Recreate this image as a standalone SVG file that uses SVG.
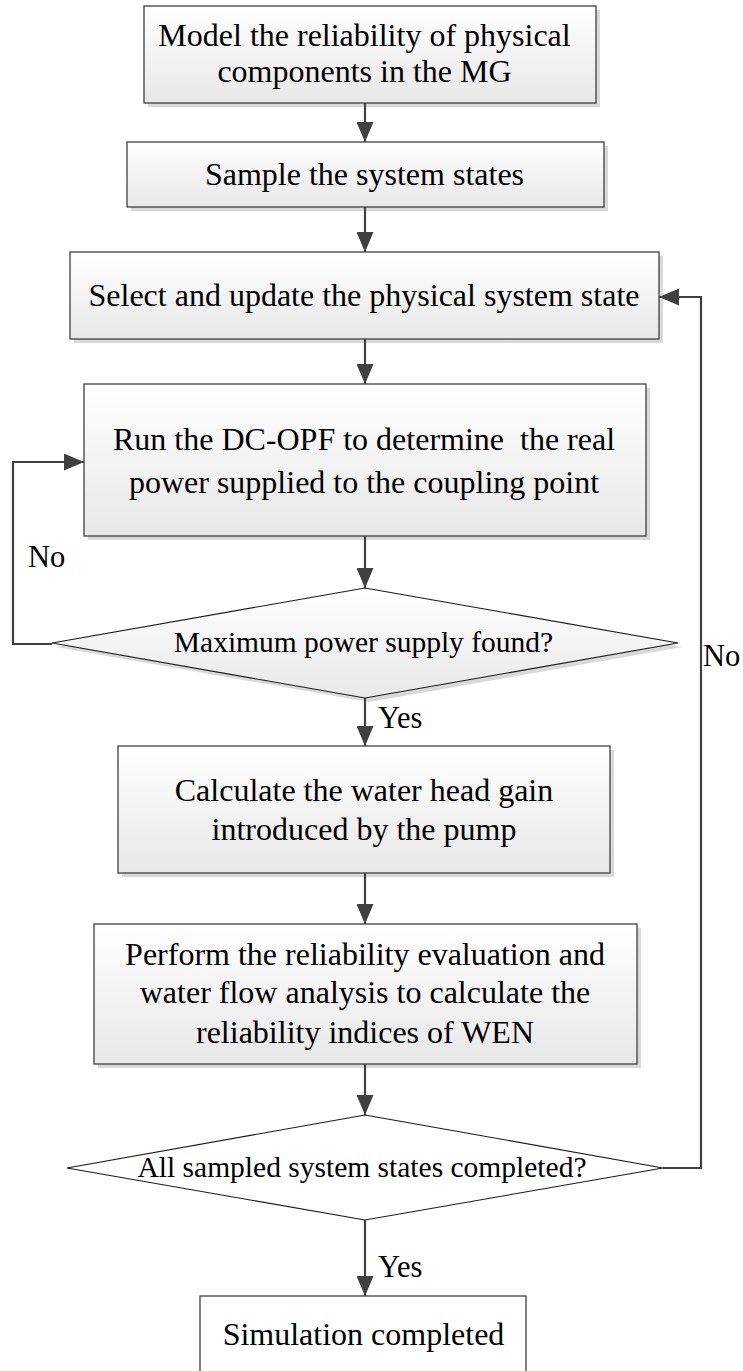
<svg xmlns="http://www.w3.org/2000/svg" width="743" height="1371" viewBox="0 0 743 1371">
<style>
.box{fill:url(#g);stroke:#404040;stroke-width:1.3}
.shadow{fill:#d9d9d9}
.dia{stroke:#1a1a1a;stroke-width:1.1}
.t{font-family:"Liberation Serif","Times New Roman",serif;font-size:32px;fill:#000;text-anchor:middle;white-space:pre}
.td{font-family:"Liberation Serif","Times New Roman",serif;font-size:29.5px;fill:#000;text-anchor:middle}
.lb{font-family:"Liberation Serif","Times New Roman",serif;font-size:30.5px;fill:#000}
.c{fill:none;stroke:#404040;stroke-width:2.2;marker-end:url(#ah)}
.cn{fill:none;stroke:#404040;stroke-width:2.2}
</style>
<defs>
<linearGradient id="g" x1="0" y1="0" x2="0" y2="1">
<stop offset="0" stop-color="#ffffff"/>
<stop offset="1" stop-color="#e8e8e8"/>
</linearGradient>
<marker id="ah" viewBox="0 0 20 17" markerWidth="20" markerHeight="17" refX="20" refY="8.5" markerUnits="userSpaceOnUse" orient="auto">
<path d="M0,0 L20,8.5 L0,17 z" fill="#404040"/>
</marker>
</defs>
<rect width="743" height="1371" fill="#fff"/>

<g id="n1">
<rect class="shadow" x="148" y="10" width="452" height="97"/>
<rect class="box" x="144" y="6" width="452" height="97"/>
<text class="t" x="364.5" y="46">Model the reliability of physical</text>
<text class="t" x="364.5" y="81.5">components in the MG</text>
</g>
<g id="n2">
<rect class="shadow" x="131" y="146" width="477" height="65"/>
<rect class="box" x="127" y="142" width="477" height="65"/>
<text class="t" x="364.5" y="185">Sample the system states</text>
</g>
<g id="n3">
<rect class="shadow" x="74" y="256" width="589" height="87"/>
<rect class="box" x="70" y="252" width="589" height="87"/>
<text class="t" x="364" y="306">Select and update the physical system state</text>
</g>
<g id="n4">
<rect class="shadow" x="88" y="388" width="562" height="152"/>
<rect class="box" x="84" y="384" width="562" height="152"/>
<text class="t" x="364" y="450">Run the DC-OPF to determine  the real</text>
<text class="t" x="364" y="493">power supplied to the coupling point</text>
</g>
<g id="d1">
<polygon class="shadow" points="369,592 682,647 369,702 56,647"/>
<polygon class="dia" fill="url(#g)" points="365,588 678,643 365,698 52,643"/>
<text class="td" x="363.5" y="652">Maximum power supply found?</text>
</g>
<g id="n5">
<rect class="shadow" x="122" y="750" width="492" height="127"/>
<rect class="box" x="118" y="746" width="492" height="127"/>
<text class="t" x="364" y="801">Calculate the water head gain</text>
<text class="t" x="364" y="840">introduced by the pump</text>
</g>
<g id="n6">
<rect class="shadow" x="98" y="928" width="543" height="140"/>
<rect class="box" x="94" y="924" width="543" height="140"/>
<text class="t" x="365" y="965">Perform the reliability evaluation and</text>
<text class="t" x="365" y="1003">water flow analysis to calculate the</text>
<text class="t" x="365" y="1043">reliability indices of WEN</text>
</g>
<g id="d2">
<polygon class="dia" fill="#fff" points="365,1115 663,1168 365,1220 67,1168"/>
<text class="td" x="362" y="1177">All sampled system states completed?</text>
</g>
<g id="n7">
<rect x="200" y="1296" width="326" height="90" fill="#fff" stroke="#404040" stroke-width="1.3"/>
<text class="t" x="363.5" y="1345">Simulation completed</text>
</g>

<g id="connectors">
<path class="c" d="M365,103 V142"/>
<path class="c" d="M365,207 V252"/>
<path class="c" d="M365,339 V384"/>
<path class="c" d="M365,536 V588"/>
<path class="c" d="M365,698 V746"/>
<path class="c" d="M365,873 V924"/>
<path class="c" d="M365,1064 V1115"/>
<path class="c" d="M365,1220 V1296"/>
<path class="c" d="M52,644 H13 V462 H84"/>
<path class="c" d="M663,1168 H701 V297 H659"/>
</g>
<g id="labels">
<text class="lb" x="28" y="567">No</text>
<text class="lb" x="703" y="666">No</text>
<text class="lb" x="378" y="728">Yes</text>
<text class="lb" x="378" y="1277">Yes</text>
</g>
</svg>
